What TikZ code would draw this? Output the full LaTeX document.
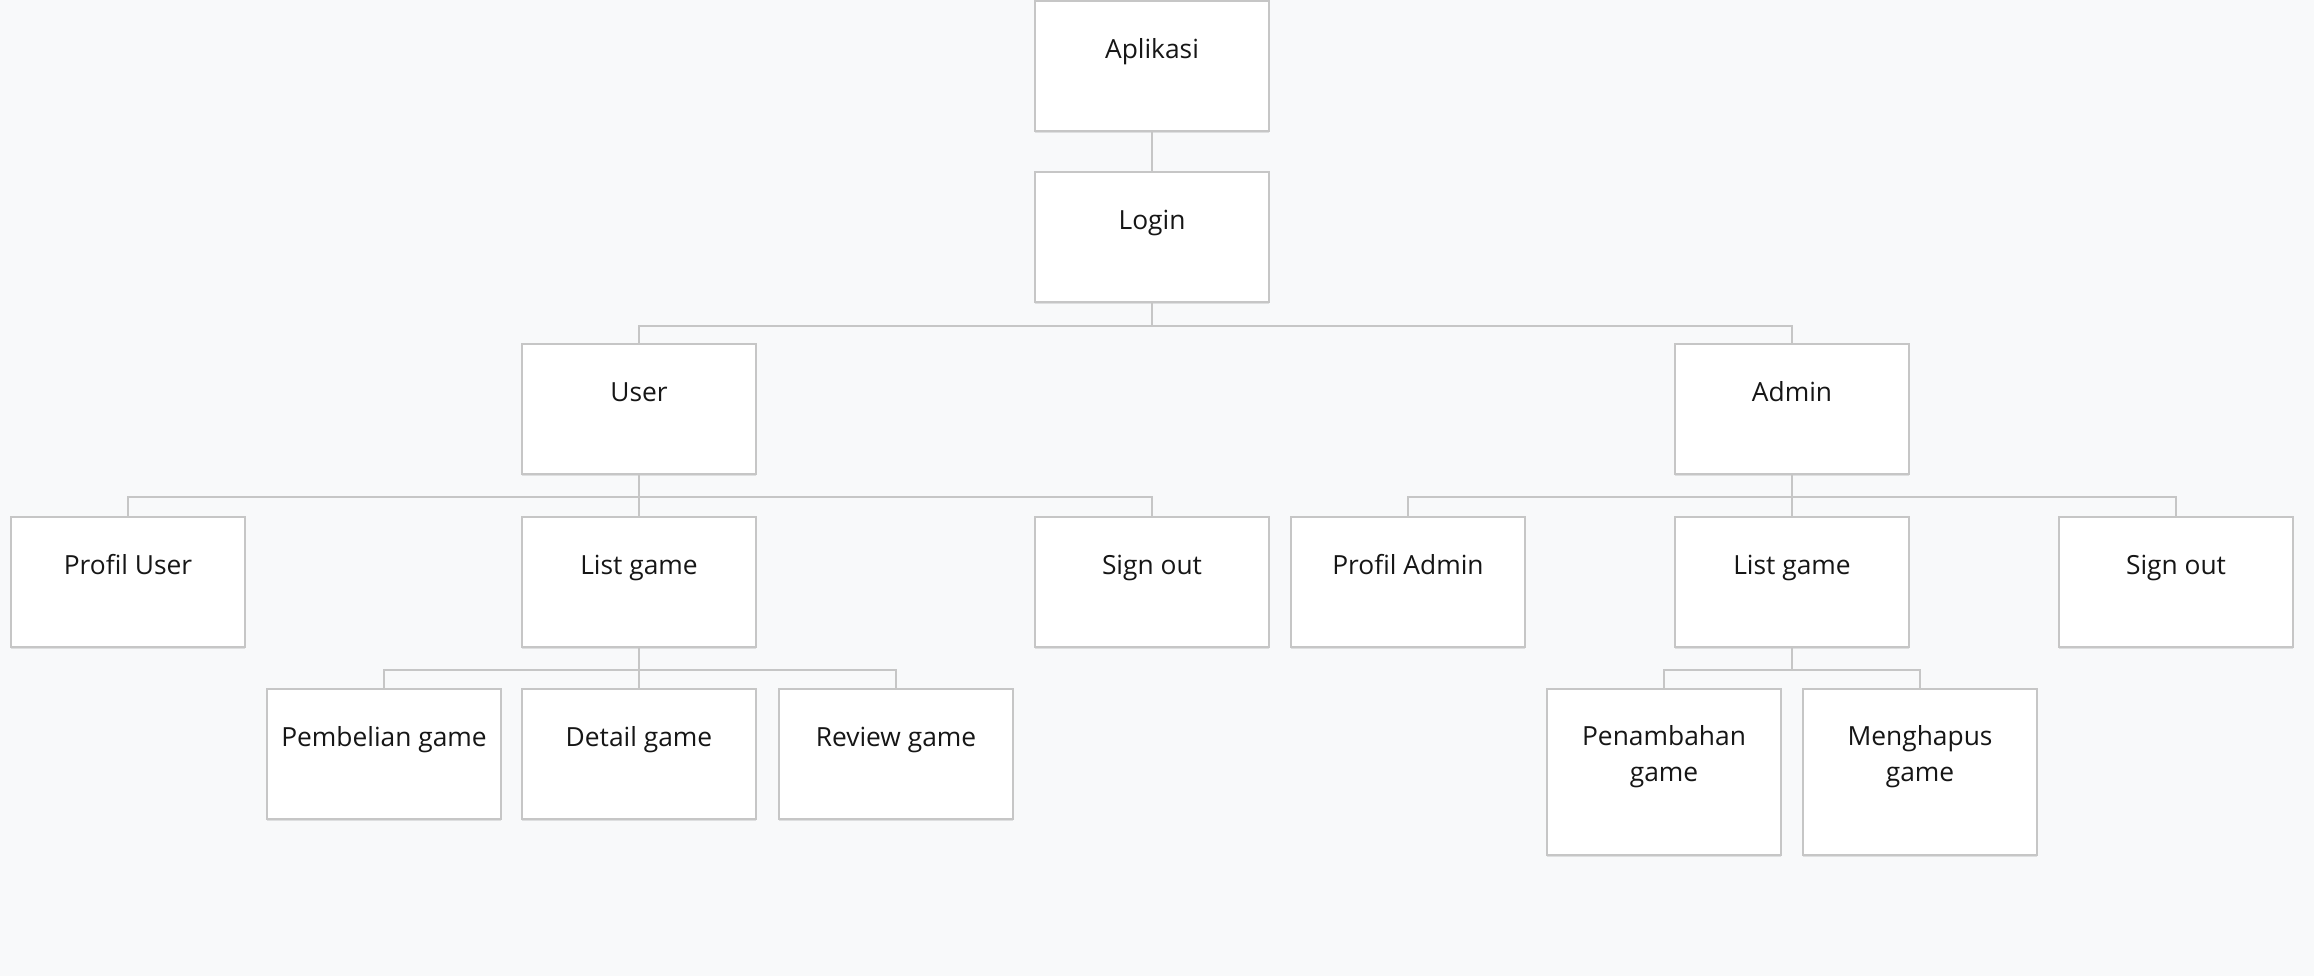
\documentclass[tikz,border=0pt]{standalone}
\usepackage{fontspec}
\setmainfont{Open Sans}
\usetikzlibrary{shadows}
\definecolor{bgcol}{HTML}{F8F9FA}
\definecolor{linecol}{HTML}{C6C6C6}
\definecolor{txtcol}{HTML}{161616}
\tikzset{
  boxbase/.style={draw=linecol, line width=0.9pt, fill=white, minimum width=4.68cm, minimum height=2.6cm, inner sep=0pt,
    drop shadow={shadow xshift=0pt, shadow yshift=-0.05cm, opacity=0.10, fill=black}},
  boxtext/.style={anchor=base, font=\fontsize{15}{20.5}\selectfont, text=txtcol, align=center},
  box/.style={boxbase, label={[boxtext, yshift=-1.16cm]north:#1}},
  tallbox/.style={boxbase, minimum height=3.32cm, label={[boxtext, yshift=-1.86cm]north:#1}},
  conn/.style={draw=linecol, line width=0.9pt}
}
\begin{document}
\begin{tikzpicture}[x=0.02cm, y=-0.02cm]
\fill[bgcol] (0,0) rectangle (2314,976);
\useasboundingbox (0,0) rectangle (2314,976);
\node[box={Aplikasi}] (aplikasi) at (1152,66){};
\node[box={Login}] (login) at (1152,237){};
\node[box={User}] (user) at (639,409){};
\node[box={Admin}] (admin) at (1792,409){};
\node[box={Profil User}] (profiluser) at (128,582){};
\node[box={List game}] (listuser) at (639,582){};
\node[box={Sign out}] (signoutuser) at (1152,582){};
\node[box={Profil Admin}] (profiladmin) at (1408,582){};
\node[box={List game}] (listadmin) at (1792,582){};
\node[box={Sign out}] (signoutadmin) at (2176,582){};
\node[box={Pembelian game}] (pembelian) at (384,754){};
\node[box={Detail game}] (detail) at (639,754){};
\node[box={Review game}] (review) at (896,754){};
\node[tallbox={Penambahan\\game}] (penambahan) at (1664,772){};
\node[tallbox={Menghapus\\game}] (menghapus) at (1920,772){};

\draw[conn] (aplikasi.south)--(login.north);
\draw[conn] (login.south)--++(0,23)-|(user.north);
\draw[conn] (login.south)--++(0,23)-|(admin.north);
\draw[conn] (user.south)--++(0,22)-|(profiluser.north);
\draw[conn] (user.south)--++(0,22)-|(listuser.north);
\draw[conn] (user.south)--++(0,22)-|(signoutuser.north);
\draw[conn] (admin.south)--++(0,22)-|(profiladmin.north);
\draw[conn] (admin.south)--++(0,22)-|(listadmin.north);
\draw[conn] (admin.south)--++(0,22)-|(signoutadmin.north);
\draw[conn] (listuser.south)--++(0,22)-|(pembelian.north);
\draw[conn] (listuser.south)--++(0,22)-|(detail.north);
\draw[conn] (listuser.south)--++(0,22)-|(review.north);
\draw[conn] (listadmin.south)--++(0,22)-|(penambahan.north);
\draw[conn] (listadmin.south)--++(0,22)-|(menghapus.north);
\end{tikzpicture}
\end{document}
